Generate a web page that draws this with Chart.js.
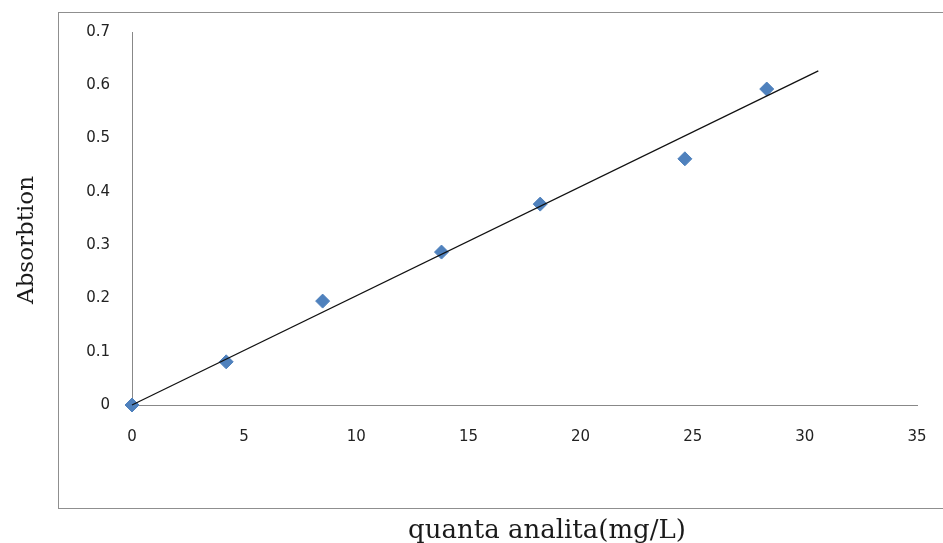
<!DOCTYPE html>
<html>
<head>
<meta charset="utf-8">
<script src="https://cdn.jsdelivr.net/npm/chart.js@4.4.1/dist/chart.umd.min.js"></script>
<style>
    html, body { margin: 0; padding: 0; background: #ffffff; }
    #wrap { width: 943px; height: 543px; }
</style>
</head>
<body>
<div id="wrap"><canvas id="absChart" width="943" height="543"></canvas></div>
<script>
// --- data ---
const konsentrasi = [0, 4.2, 8.5, 13.8, 18.2, 24.65, 28.3];
const absorbansi = [0, 0.081, 0.195, 0.287, 0.377, 0.462, 0.593];

// garis tren (ujung-ujungnya)
const trenX = [0, 30.6];
const trenY = [0, 0.627];

const xTickLabels = ['0', '5', '10', '15', '20', '25', '30', '35'];
const yTickLabels = ['0', '0.1', '0.2', '0.3', '0.4', '0.5', '0.6', '0.7'];

const judulX = 'quanta analita(mg/L)';
const judulY = 'Absorbtion';

// --- plugin bingkai + judul sumbu ---
const bingkaiPlugin = {
    id: 'bingkai',
    beforeDraw(chart) {
        const ctx = chart.ctx;
        ctx.save();
        ctx.fillStyle = '#ffffff';
        ctx.fillRect(0, 0, chart.width, chart.height);
        ctx.strokeStyle = '#8f8f8f';
        ctx.lineWidth = 1;
        ctx.strokeRect(58.5, 12.5, 890, 496);
        ctx.restore();
    },
    afterDraw(chart) {
        const ctx = chart.ctx;
        ctx.save();
        ctx.fillStyle = '#1a1a1a';
        ctx.textAlign = 'center';
        ctx.textBaseline = 'alphabetic';
        ctx.font = '26px "DejaVu Serif", serif';
        ctx.fillText(judulX, 547, 538);

        ctx.font = '23px "DejaVu Serif", serif';
        ctx.translate(33, 240);
        ctx.rotate(-Math.PI / 2);
        ctx.fillText(judulY, 0, 0);
        ctx.restore();
    }
};

const ctx = document.getElementById('absChart');

new Chart(ctx, {
    type: 'scatter',
    data: {
        datasets: [
            {
                type: 'line',
                label: 'Tren',
                data: trenX.map((x, i) => ({ x: x, y: trenY[i] })),
                borderColor: '#111111',
                borderWidth: 1.3,
                pointRadius: 0,
                showLine: true,
                fill: false,
                clip: false
            },
            {
                label: 'Absorbsi',
                data: konsentrasi.map((x, i) => ({ x: x, y: absorbansi[i] })),
                pointStyle: 'rectRot',
                pointRadius: 7,
                backgroundColor: '#4f81bd',
                borderColor: '#4f81bd',
                borderWidth: 1,
                clip: false
            }
        ]
    },
    options: {
        responsive: false,
        animation: false,
        devicePixelRatio: 1,
        layout: { padding: { left: 0, top: 32, right: 26, bottom: 0 } },
        plugins: {
            legend: { display: false },
            tooltip: { enabled: false }
        },
        scales: {
            x: {
                type: 'linear',
                min: 0,
                max: 35,
                afterFit: (scale) => {
                    scale.height = 138;
                    scale.paddingLeft = 0;
                    scale.paddingRight = 0;
                },
                grid: { display: true, drawOnChartArea: false, drawTicks: false },
                border: { display: true, color: '#888888', width: 1 },
                ticks: {
                    stepSize: 5,
                    padding: 23,
                    color: '#222222',
                    font: { family: '"DejaVu Sans", sans-serif', size: 15 },
                    callback: (val, i) => xTickLabels[i]
                }
            },
            y: {
                type: 'linear',
                min: 0,
                max: 0.7,
                afterFit: (scale) => {
                    scale.width = 132;
                    scale.paddingTop = 0;
                    scale.paddingBottom = 0;
                },
                grid: { display: true, drawOnChartArea: false, drawTicks: false },
                border: { display: true, color: '#888888', width: 1 },
                ticks: {
                    stepSize: 0.1,
                    padding: 22,
                    color: '#222222',
                    font: { family: '"DejaVu Sans", sans-serif', size: 15 },
                    callback: (val, i) => yTickLabels[i]
                }
            }
        }
    },
    plugins: [bingkaiPlugin]
});
</script>
</body>
</html>
